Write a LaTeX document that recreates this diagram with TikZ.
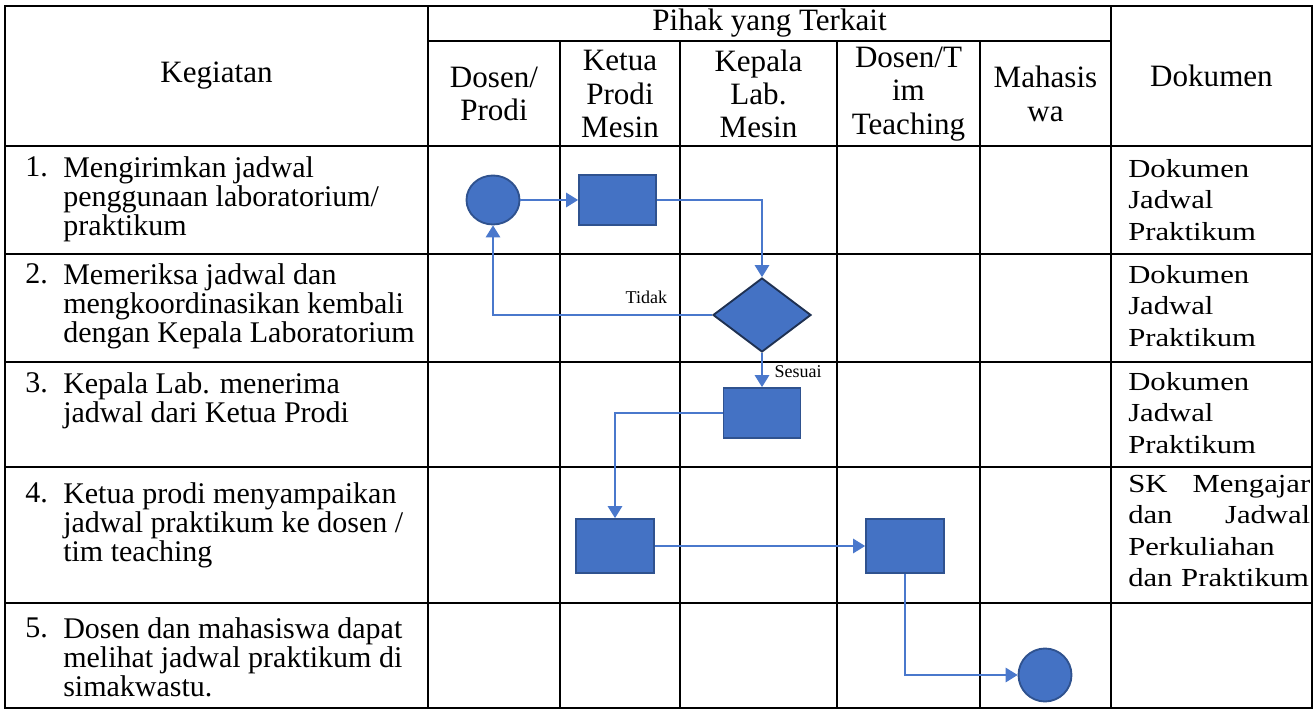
\documentclass[tikz,border=0pt]{standalone}
\usepackage{fontspec}
\setmainfont{Liberation Serif}
\newfontfamily\docfont{Liberation Serif}[FakeStretch=1.18]
\usetikzlibrary{positioning, shapes.geometric, arrows.meta}

\definecolor{fillblue}{HTML}{4472C4}
\definecolor{edgeblue}{HTML}{2F528F}
\definecolor{navyline}{HTML}{1F3152}
\definecolor{linkblue}{HTML}{4A78CC}

\tikzset{
  tabline/.style={line width=1.6pt, line cap=rect},
  proc/.style={rectangle, draw=edgeblue, fill=fillblue, line width=1.4pt, minimum width=57.75pt, minimum height=37.5pt, inner sep=0pt},
  term/.style={ellipse, draw=edgeblue, fill=fillblue, line width=1.4pt, inner sep=0pt},
  decide/.style={diamond, draw=navyline, fill=fillblue, line width=1.4pt, minimum width=73.5pt, minimum height=55.5pt, inner sep=0pt},
  link/.style={draw=linkblue, line width=0.9pt, -{Triangle[length=9pt, width=11pt]}},
  head/.style={font=\fontsize{23.3}{25}\selectfont, align=center, inner sep=0pt},
  act/.style={font=\fontsize{22.5}{22}\selectfont, align=left, anchor=north west, inner sep=0pt},
  num/.style={font=\fontsize{22.5}{22}\selectfont, anchor=base west, inner sep=0pt},
  doc/.style={font=\docfont\fontsize{19.5}{23.6}\selectfont, align=left, anchor=north west, inner sep=0pt, text width=136.5pt},
  tag/.style={font=\fontsize{13.5}{15}\selectfont, inner sep=0pt}
}

\begin{document}
\begin{tikzpicture}[x=0.75pt, y=-0.75pt]
  \useasboundingbox (0,0) rectangle (1315,709);

  % table lines
  \foreach \yy in {6,146,254,362,467,603,708}
    \draw[tabline] (5,\yy) -- (1312,\yy);
  \draw[tabline] (428,41) -- (1111,41);
  \foreach \xx in {5,428,1111,1312}
    \draw[tabline] (\xx,6) -- (\xx,708);
  \foreach \xx in {560,680,837,980}
    \draw[tabline] (\xx,41) -- (\xx,708);

  % header
  \node[head] (hkeg) at (216.5,76) {Kegiatan};
  \node[head] (hpihak) at (769.5,23) {Pihak yang Terkait};
  \node[head] (hdok) at (1211.5,76) {Dokumen};
  \node[head] (hdosen) at (494,94) {Dosen/\\Prodi};
  \node[head] (hketua) at (620,94) {Ketua\\Prodi\\Mesin};
  \node[head] (hkalab) at (758.5,94) {Kepala\\Lab.\\Mesin};
  \node[head] (htim) at (908.5,94) {Dosen/T\\im\\Teaching};
  \node[head] (hmhs) at (1045.5,94) {Mahasis\\wa};

  % kegiatan
  \node[act] (k1) at (63,156) {Mengirimkan jadwal\\penggunaan laboratorium/\\praktikum};
  \node[act] (k2) at (63,263) {Memeriksa jadwal dan\\mengkoordinasikan kembali\\dengan Kepala Laboratorium};
  \node[act] (k3) at (63,372) {Kepala Lab. menerima\\jadwal dari Ketua Prodi};
  \node[act] (k4) at (63,482) {Ketua prodi menyampaikan\\jadwal praktikum ke dosen /\\tim teaching};
  \node[act] (k5) at (63,617) {Dosen dan mahasiswa dapat\\melihat jadwal praktikum di\\simakwastu.};
  \node[num] (n1) at (25,176.5) {1.};
  \node[num] (n2) at (25,283.5) {2.};
  \node[num] (n3) at (25,392.5) {3.};
  \node[num] (n4) at (25,502.5) {4.};
  \node[num] (n5) at (25,637.5) {5.};

  % dokumen
  \node[doc] (d1) at (1128,159) {Dokumen\\Jadwal\\Praktikum};
  \node[doc] (d2) at (1128,265) {Dokumen\\Jadwal\\Praktikum};
  \node[doc] (d3) at (1128,372) {Dokumen\\Jadwal\\Praktikum};
  \node[doc] (d4) at (1128,475) {SK\hfill Mengajar\\dan\hfill Jadwal\\Perkuliahan\\dan Praktikum};

  % flow
  \node[term, minimum width=39.75pt, minimum height=36.75pt] (mulai) at (493,200) {};
  \node[proc] (cek) at (617.5,200) {};
  \node[decide] (putus) at (762,315) {};
  \node[proc] (terima) at (762,413) {};
  \node[proc, minimum width=58.5pt, minimum height=40.5pt] (kirim) at (615,546) {};
  \node[proc, minimum width=58.5pt, minimum height=40.5pt] (tim) at (905,546) {};
  \node[term, minimum width=39.75pt, minimum height=39.75pt] (selesai) at (1045,675) {};

  \draw[link] (mulai) -- (cek);
  \draw[link] (cek.east) -| (putus.north);
  \draw[link] (putus.west) -| (mulai.south) node[tag, pos=0.15, above=8pt] {Tidak};
  \draw[link] (putus.south) -- (terima.north) node[tag, pos=0.55, right=9pt] {Sesuai};
  \draw[link] (terima.west) -| (kirim.north);
  \draw[link] (kirim) -- (tim);
  \draw[link] (tim.south) |- (selesai.west);
\end{tikzpicture}
\end{document}
